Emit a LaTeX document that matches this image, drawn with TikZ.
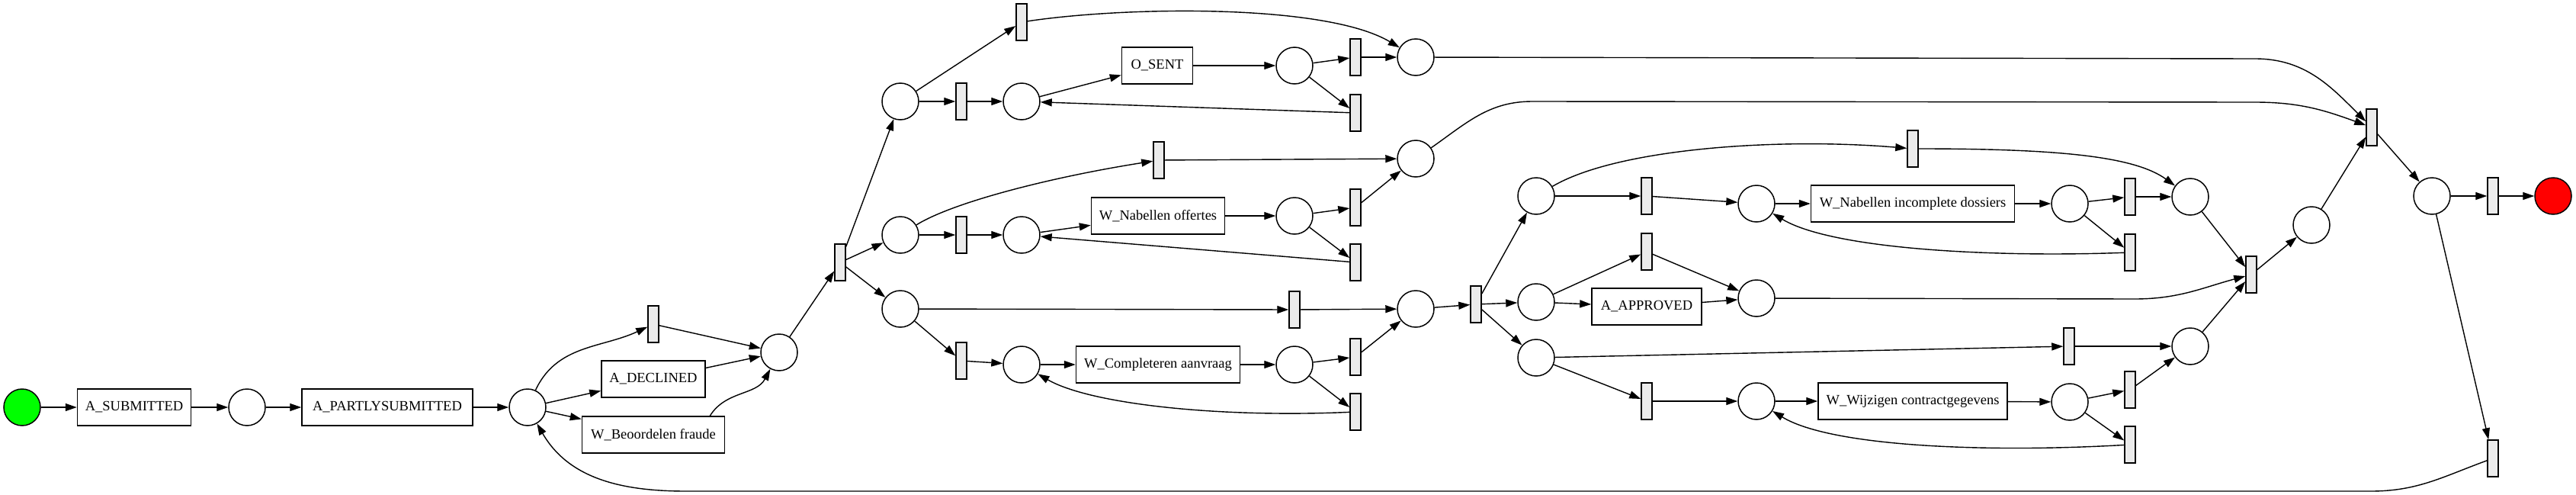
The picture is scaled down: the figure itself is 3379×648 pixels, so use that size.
\documentclass[tikz,border=0pt]{standalone}
\usepackage{fontspec}
\setmainfont{Liberation Serif}
\usetikzlibrary{arrows.meta}
\definecolor{tgray}{HTML}{EBEBEB}
\begin{document}
\begin{tikzpicture}[x=1pt,y=1pt,
  place/.style={circle,draw,line width=1.5pt,minimum size=48pt,inner sep=0pt},
  trans/.style={rectangle,draw,fill=tgray,line width=1.5pt,minimum width=14pt,minimum height=48pt,inner sep=0pt},
  act/.style={rectangle,draw,line width=1.5pt,minimum height=48pt,inner sep=0pt,font=\fontsize{18.5}{20}\selectfont},
  arc/.style={-{Triangle[length=15pt,width=10pt]},line width=1.4pt}]
\useasboundingbox (0,0) rectangle (3379,-648);
% left part
\node[place,fill={rgb,255:red,0;green,255;blue,0}] (start) at (29,-534) {};
\node[act,minimum width=149pt] (aSub) at (176,-534) {A\_SUBMITTED};
\node[place] (p1) at (324,-534) {};
\node[act,minimum width=224pt] (aPart) at (508,-534) {A\_PARTLYSUBMITTED};
\node[place] (p2) at (692,-534) {};
\node[trans] (td) at (857,-425) {};
\node[act,minimum width=136pt] (aDec) at (857,-497) {A\_DECLINED};
\node[act,minimum width=187pt] (wBeo) at (857,-570) {W\_Beoordelen fraude};
\node[place] (p3) at (1022,-462) {};
\node[trans] (tsplit) at (1102,-344) {};
% upper branch
\node[place] (pa) at (1181,-133) {};
\node[trans] (ttop) at (1340,-29) {};
\node[trans] (ta1) at (1261,-133) {};
\node[place] (pa2) at (1340,-133) {};
\node[act,minimum width=93pt] (oSent) at (1518,-86) {O\_SENT};
\node[place] (pa3) at (1698,-86) {};
\node[trans] (ta3) at (1778,-75) {};
\node[trans] (ta4) at (1778,-148) {};
\node[place] (pj1) at (1857,-75) {};
% middle branch
\node[place] (pb) at (1181,-308) {};
\node[trans] (tbtop) at (1520,-210) {};
\node[trans] (tb1) at (1261,-308) {};
\node[place] (pb2) at (1340,-308) {};
\node[act,minimum width=175pt] (wNabOff) at (1519,-283) {W\_Nabellen offertes};
\node[place] (pb3) at (1698,-283) {};
\node[trans] (tb3) at (1778,-272) {};
\node[trans] (tb4) at (1778,-344) {};
\node[place] (pj2) at (1857,-208) {};
% lower branch
\node[place] (pc) at (1181,-405) {};
\node[trans] (tcskip) at (1698,-406) {};
\node[place] (pj3) at (1857,-405) {};
\node[trans] (tc1) at (1261,-473) {};
\node[place] (pc2) at (1340,-478) {};
\node[act,minimum width=215pt] (wCompl) at (1519,-478) {W\_Completeren aanvraag};
\node[place] (pc3) at (1698,-478) {};
\node[trans] (tc3) at (1778,-468) {};
\node[trans] (tc4) at (1778,-540) {};
% second part
\node[trans] (tand2) at (1936,-399) {};
\node[place] (pd) at (2015,-257) {};
\node[place] (pe) at (2015,-396) {};
\node[place] (pf) at (2015,-469) {};
\node[trans] (tdskip) at (2509,-195) {};
\node[trans] (td1) at (2160,-257) {};
\node[place] (pd2) at (2304,-267) {};
\node[act,minimum width=267pt] (wNabInc) at (2509,-267) {W\_Nabellen incomplete dossiers};
\node[place] (pd3) at (2715,-267) {};
\node[trans] (td3) at (2794,-258) {};
\node[trans] (td4) at (2794,-331) {};
\node[place] (pd4) at (2873,-258) {};
\node[trans] (te1) at (2160,-330) {};
\node[act,minimum width=144pt] (aAppr) at (2160,-402) {A\_APPROVED};
\node[place] (pe2) at (2304,-391) {};
\node[trans] (tfskip) at (2714,-454) {};
\node[place] (pf4) at (2873,-454) {};
\node[trans] (tf1) at (2160,-526) {};
\node[place] (pf2) at (2304,-526) {};
\node[act,minimum width=248pt] (wWijz) at (2509,-526) {W\_Wijzigen contractgegevens};
\node[place] (pf3) at (2715,-527) {};
\node[trans] (tf3) at (2794,-511) {};
\node[trans] (tf4) at (2794,-583) {};
\node[trans] (tand3) at (2953,-360) {};
\node[place] (pg) at (3032,-295) {};
\node[trans] (tfinal) at (3111,-167) {};
\node[place] (ph) at (3190,-257) {};
\node[trans] (tend) at (3270,-257) {};
\node[place,fill={rgb,255:red,255;green,0;blue,0}] (end) at (3349,-257) {};
\node[trans] (tloop) at (3270,-601) {};
% waypoints
\coordinate (j1b) at (2958,-77);
\coordinate (j2a) at (2010,-133);
\coordinate (j2b) at (2958,-134);
\coordinate (e2a) at (2800,-392);
\coordinate (lp1) at (3110,-644);
\coordinate (lp2) at (900,-644);
% arcs left
\draw[arc] (start) -- (aSub);
\draw[arc] (aSub) -- (p1);
\draw[arc] (p1) -- (aPart);
\draw[arc] (aPart) -- (p2);
\draw[arc] (p2) to[out=65,in=205] (td);
\draw[arc] (p2) -- (aDec);
\draw[arc] (p2) -- (wBeo);
\draw[arc] (td) -- (p3);
\draw[arc] (aDec) -- (p3);
\draw[arc] ([xshift=-20pt]wBeo.north east) to[out=58,in=242] (p3);
\draw[arc] (p3) -- (tsplit);
\draw[arc] (tsplit) -- (pa);
\draw[arc] (tsplit) -- (pb);
\draw[arc] (tsplit) -- (pc);
% upper
\draw[arc] (pa) -- (ttop);
\draw[arc] (pa) -- (ta1);
\draw[arc] (ta1) -- (pa2);
\draw[arc] (pa2) -- (oSent);
\draw[arc] (oSent) -- (pa3);
\draw[arc] (pa3) -- (ta3);
\draw[arc] (pa3) -- (ta4);
\draw[arc] (ta4) -- (pa2);
\draw[arc] (ta3) -- (pj1);
\draw[arc] (ttop) .. controls (1480,-8) and (1740,-5) .. (pj1);
% middle
\draw[arc] (pb) .. controls (1250,-265) and (1380,-232) .. (tbtop);
\draw[arc] (tbtop) -- (pj2);
\draw[arc] (pb) -- (tb1);
\draw[arc] (tb1) -- (pb2);
\draw[arc] (pb2) -- (wNabOff);
\draw[arc] (wNabOff) -- (pb3);
\draw[arc] (pb3) -- (tb3);
\draw[arc] (pb3) -- (tb4);
\draw[arc] (tb4) -- (pb2);
\draw[arc] (tb3) -- (pj2);
% lower
\draw[arc] (pc) -- (tcskip);
\draw[arc] (tcskip) -- (pj3);
\draw[arc] (pc) -- (tc1);
\draw[arc] (tc1) -- (pc2);
\draw[arc] (pc2) -- (wCompl);
\draw[arc] (wCompl) -- (pc3);
\draw[arc] (pc3) -- (tc3);
\draw[arc] (pc3) -- (tc4);
\draw[arc] (tc4) .. controls (1600,-548) and (1430,-530) .. (pc2);
\draw[arc] (tc3) -- (pj3);
\draw[arc] (pj3) -- (tand2);
% joins to final
\draw[arc] (pj1) -- (j1b) to[out=0,in=135] (tfinal);
\draw[arc] (pj2) to[out=35,in=180] (j2a) -- (j2b) to[out=0,in=160] (tfinal);
% second part
\draw[arc] (tand2) -- (pd);
\draw[arc] (tand2) -- (pe);
\draw[arc] (tand2) -- (pf);
\draw[arc] (pd) .. controls (2120,-195) and (2330,-180) .. (tdskip);
\draw[arc] (tdskip) .. controls (2700,-195) and (2800,-205) .. (pd4);
\draw[arc] (pd) -- (td1);
\draw[arc] (td1) -- (pd2);
\draw[arc] (pd2) -- (wNabInc);
\draw[arc] (wNabInc) -- (pd3);
\draw[arc] (pd3) -- (td3);
\draw[arc] (pd3) -- (td4);
\draw[arc] (td3) -- (pd4);
\draw[arc] (td4) .. controls (2600,-338) and (2400,-325) .. (pd2);
\draw[arc] (pe) -- (te1);
\draw[arc] (pe) -- (aAppr);
\draw[arc] (te1) -- (pe2);
\draw[arc] (aAppr) -- (pe2);
\draw[arc] (pe2) -- (e2a) to[out=0,in=195] (tand3);
\draw[arc] (pf) -- (tfskip);
\draw[arc] (tfskip) -- (pf4);
\draw[arc] (pf) -- (tf1);
\draw[arc] (tf1) -- (pf2);
\draw[arc] (pf2) -- (wWijz);
\draw[arc] (wWijz) -- (pf3);
\draw[arc] (pf3) -- (tf3);
\draw[arc] (pf3) -- (tf4);
\draw[arc] (tf3) -- (pf4);
\draw[arc] (tf4) .. controls (2600,-594) and (2400,-585) .. (pf2);
\draw[arc] (pd4) -- (tand3);
\draw[arc] (pf4) -- (tand3);
\draw[arc] (tand3) -- (pg);
\draw[arc] (pg) -- (tfinal);
\draw[arc] (tfinal) -- (ph);
\draw[arc] (ph) -- (tend);
\draw[arc] (tend) -- (end);
\draw[arc] (ph) -- (tloop);
\draw[arc] (tloop) to[out=200,in=0] (lp1) -- (lp2) to[out=180,in=-60] (p2);
\end{tikzpicture}
\end{document}
